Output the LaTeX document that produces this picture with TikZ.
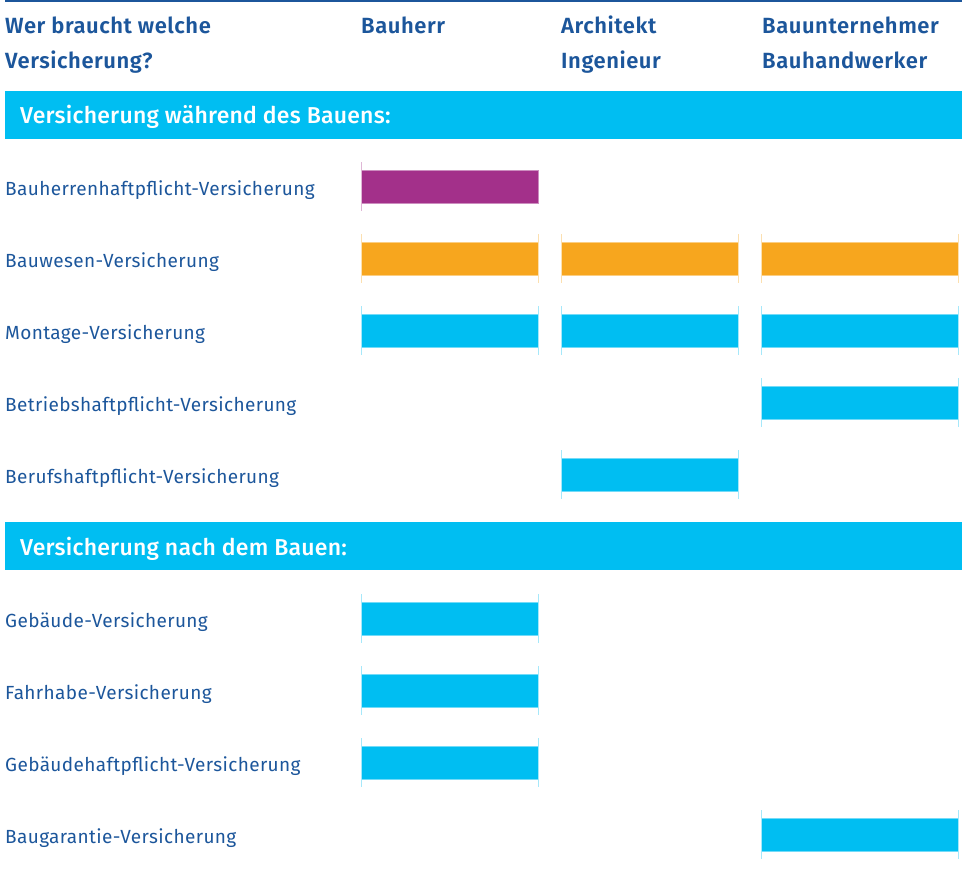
\documentclass[tikz,border=0pt]{standalone}
\usepackage{fontspec}
\setmainfont{Fira Sans}
\newfontfamily\halbfett[LetterSpace=2.5]{Fira Sans SemiBold}
\newfontfamily\mittel[LetterSpace=1]{Fira Sans Medium}
\newfontfamily\normal[LetterSpace=2]{Fira Sans}
\definecolor{dunkelblau}{RGB}{28,86,155}
\definecolor{hellblau}{RGB}{0,190,242}
\definecolor{lila}{RGB}{163,48,138}
\definecolor{orange}{RGB}{247,166,30}
\tikzset{
  kopf/.style={font=\halbfett\fontsize{22}{26}\selectfont, text=dunkelblau, anchor=base west, inner sep=0pt},
  abschnitt/.style={font=\mittel\fontsize{23}{27}\selectfont, text=white, anchor=base west, inner sep=0pt},
  zeile/.style={font=\normal\fontsize{19}{23}\selectfont, text=dunkelblau, anchor=base west, inner sep=0pt},
  balken/.style={fill=#1, draw=#1!55, line width=0.8pt, minimum height=33pt, inner sep=0pt, outer sep=0pt},
  strich/.style={draw=#1!35, line width=0.8pt}
}
\newcommand{\balken}[5]{%
  \node[balken=#5, minimum width=#3pt] (#1) at (#2,#4) {};
  \draw[strich=#5] ([yshift=8pt]#1.north west) -- ([yshift=-8pt]#1.south west)
    ([yshift=8pt]#1.north east) -- ([yshift=-8pt]#1.south east);
}
\begin{document}
\begin{tikzpicture}[x=1pt,y=-1pt]
  \useasboundingbox (0,0) rectangle (962,878);
  \draw[dunkelblau, line width=1.5pt] (5,0.75) -- (962,0.75);

  \node[kopf] (frage1) at (5,33.5) {Wer braucht welche};
  \node[kopf] (frage2) at (5,68.5) {Versicherung?};
  \node[kopf] (bauherr) at (361,33.5) {Bauherr};
  \node[kopf] (architekt) at (561,33.5) {Architekt};
  \node[kopf] (ingenieur) at (561,68.5) {Ingenieur};
  \node[kopf] (unternehmer) at (762,33.5) {Bauunternehmer};
  \node[kopf] (handwerker) at (762,68.5) {Bauhandwerker};

  \fill[hellblau] (5,91) rectangle (962,139);
  \node[abschnitt] (waehrend) at (20,123) {Versicherung während des Bauens:};

  \node[zeile] (bhv) at (5,195) {Bauherrenhaftpflicht-Versicherung};
  \node[zeile] (bwv) at (5,267) {Bauwesen-Versicherung};
  \node[zeile] (mv) at (5,339) {Montage-Versicherung};
  \node[zeile] (bbv) at (5,411) {Betriebshaftpflicht-Versicherung};
  \node[zeile] (bfv) at (5,483) {Berufshaftpflicht-Versicherung};

  \node[balken=lila, minimum width=177pt] (bhv1) at (449.5,186.5) {};
  \draw[strich=lila] ([yshift=8pt]bhv1.north west) -- ([yshift=-8pt]bhv1.south west);
  \balken{bwv1}{449.5}{177}{258.5}{orange}
  \balken{bwv2}{649.5}{177}{258.5}{orange}
  \balken{bwv3}{859.5}{197}{258.5}{orange}
  \balken{mv1}{449.5}{177}{330.5}{hellblau}
  \balken{mv2}{649.5}{177}{330.5}{hellblau}
  \balken{mv3}{859.5}{197}{330.5}{hellblau}
  \balken{bbv3}{859.5}{197}{402.5}{hellblau}
  \balken{bfv2}{649.5}{177}{474.5}{hellblau}

  \fill[hellblau] (5,522) rectangle (962,570);
  \node[abschnitt] (nach) at (20,555) {Versicherung nach dem Bauen:};

  \node[zeile] (gv) at (5,627) {Gebäude-Versicherung};
  \node[zeile] (fv) at (5,699) {Fahrhabe-Versicherung};
  \node[zeile] (ghv) at (5,771) {Gebäudehaftpflicht-Versicherung};
  \node[zeile] (bgv) at (5,843) {Baugarantie-Versicherung};

  \balken{gv1}{449.5}{177}{618.5}{hellblau}
  \balken{fv1}{449.5}{177}{690.5}{hellblau}
  \balken{ghv1}{449.5}{177}{762.5}{hellblau}
  \balken{bgv3}{859.5}{197}{834.5}{hellblau}
\end{tikzpicture}
\end{document}
